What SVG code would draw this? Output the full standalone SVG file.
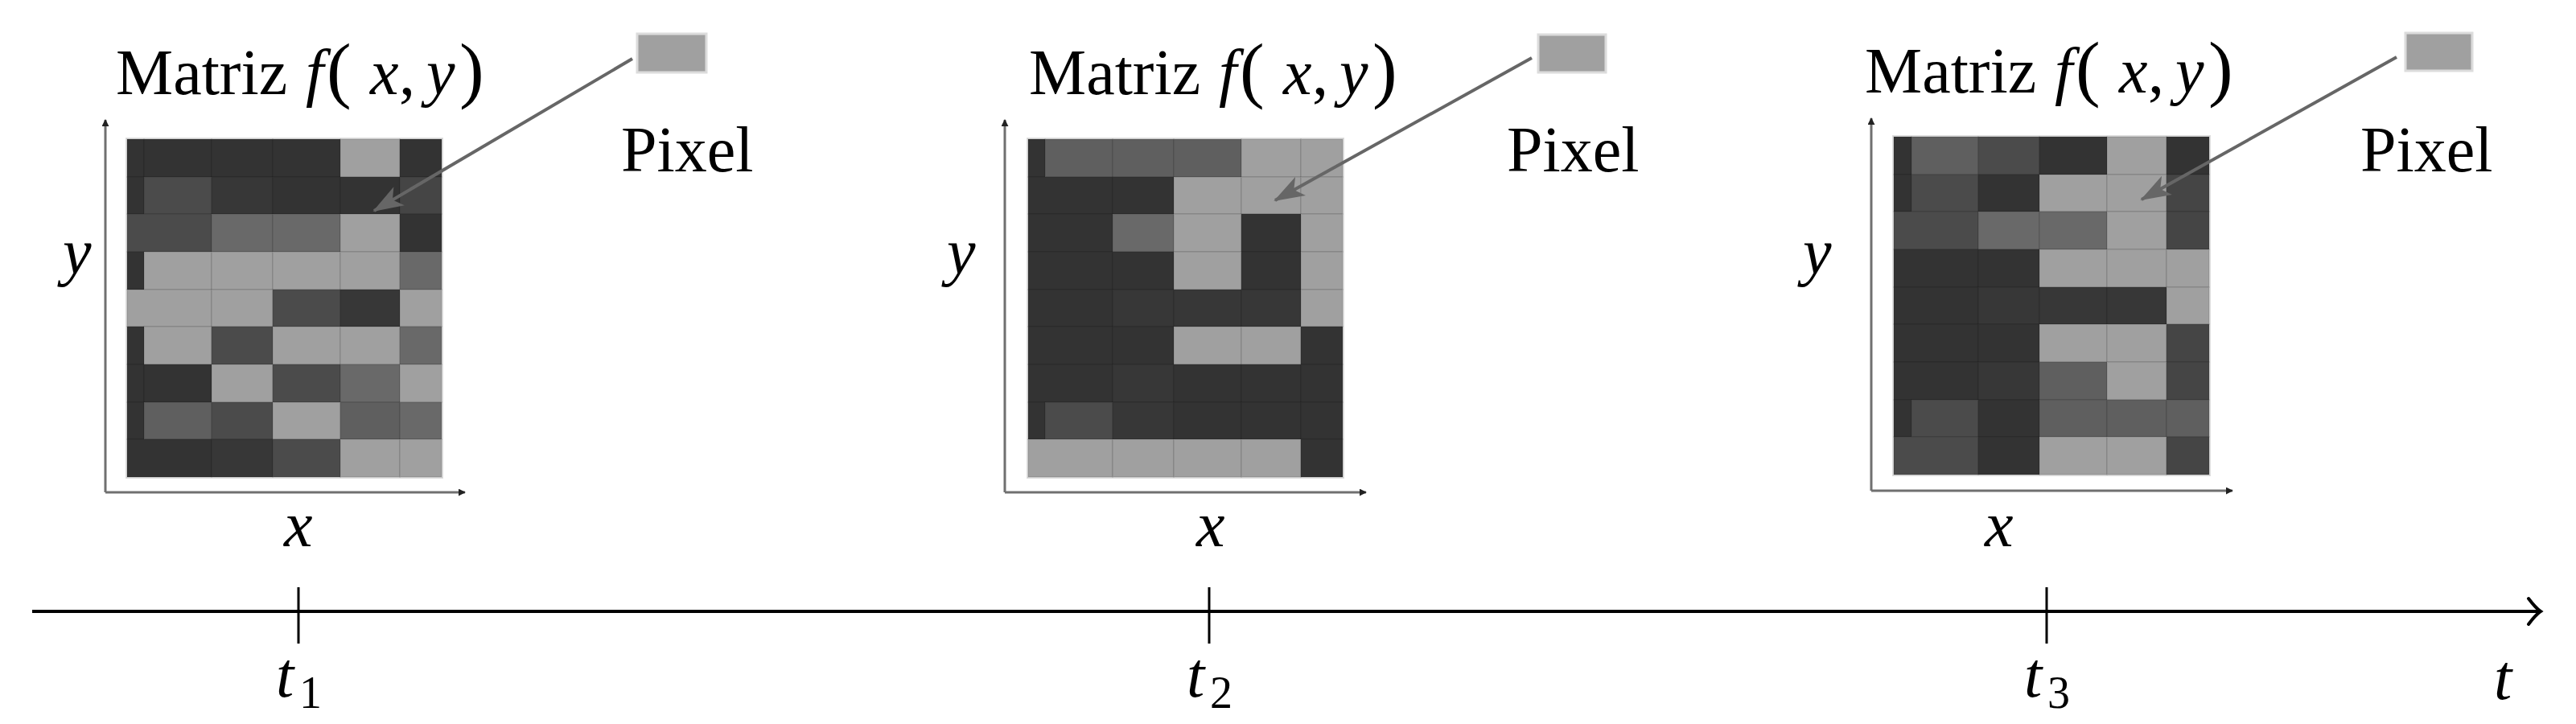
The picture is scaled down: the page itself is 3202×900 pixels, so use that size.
<svg xmlns="http://www.w3.org/2000/svg" width="3202" height="900" viewBox="0 0 3202 900">
<style>
.it{font-style:italic}
.lbl{font-size:80px}
.par{font-size:92px}
.sub{font-size:56px}
.d{fill:#333333}.e{fill:#373737}.m{fill:#4b4b4b}.n{fill:#454545}.g{fill:#5f5f5f}.h{fill:#696969}.l{fill:#a0a0a0}
.cells rect{stroke:#000;stroke-opacity:0.08;stroke-width:2}
.frame{fill:none;stroke:#dedede;stroke-width:4}
.axis{stroke:#707070;stroke-width:3;fill:none}
.pix{fill:#a0a0a0;stroke:#dcdcdc;stroke-width:3}
.ptr{stroke:#666;stroke-width:4;fill:none}
.tl{stroke:#000;stroke-width:4;fill:none}
.tick{stroke:#000;stroke-width:3}
</style>
<defs>
<marker id="ah" viewBox="0 0 10 10" refX="9" refY="5" markerWidth="3" markerHeight="3" orient="auto">
<path d="M0,0 L10,5 L0,10 z" fill="#222"/>
</marker>
<marker id="ptrh" viewBox="0 0 20 14" refX="19" refY="7" markerWidth="38" markerHeight="27" markerUnits="userSpaceOnUse" orient="auto">
<path d="M0,0 L20,7 L0,14 L5,7 z" fill="#666"/>
</marker>
</defs>

<g id="panel1" font-family="Liberation Serif" fill="#000">
<rect class="frame" x="158" y="173" width="391" height="420"/>
<g class="cells" transform="translate(158,173)">
<rect class="d" x="0" y="0" width="21" height="47"/><rect class="d" x="21" y="0" width="84" height="47"/><rect class="d" x="105" y="0" width="76" height="47"/><rect class="d" x="181" y="0" width="84" height="47"/><rect class="l" x="265" y="0" width="74" height="47"/><rect class="d" x="339" y="0" width="52" height="47"/>
<rect class="d" x="0" y="47" width="21" height="46"/><rect class="m" x="21" y="47" width="84" height="46"/><rect class="e" x="105" y="47" width="76" height="46"/><rect class="d" x="181" y="47" width="84" height="46"/><rect class="d" x="265" y="47" width="74" height="46"/><rect class="n" x="339" y="47" width="52" height="46"/>
<rect class="m" x="0" y="93" width="105" height="47"/><rect class="h" x="105" y="93" width="76" height="47"/><rect class="h" x="181" y="93" width="84" height="47"/><rect class="l" x="265" y="93" width="74" height="47"/><rect class="d" x="339" y="93" width="52" height="47"/>
<rect class="d" x="0" y="140" width="21" height="47"/><rect class="l" x="21" y="140" width="84" height="47"/><rect class="l" x="105" y="140" width="76" height="47"/><rect class="l" x="181" y="140" width="84" height="47"/><rect class="l" x="265" y="140" width="74" height="47"/><rect class="h" x="339" y="140" width="52" height="47"/>
<rect class="l" x="0" y="187" width="105" height="46"/><rect class="l" x="105" y="187" width="76" height="46"/><rect class="m" x="181" y="187" width="84" height="46"/><rect class="e" x="265" y="187" width="74" height="46"/><rect class="l" x="339" y="187" width="52" height="46"/>
<rect class="d" x="0" y="233" width="21" height="47"/><rect class="l" x="21" y="233" width="84" height="47"/><rect class="m" x="105" y="233" width="76" height="47"/><rect class="l" x="181" y="233" width="84" height="47"/><rect class="l" x="265" y="233" width="74" height="47"/><rect class="h" x="339" y="233" width="52" height="47"/>
<rect class="d" x="0" y="280" width="21" height="47"/><rect class="d" x="21" y="280" width="84" height="47"/><rect class="l" x="105" y="280" width="76" height="47"/><rect class="m" x="181" y="280" width="84" height="47"/><rect class="h" x="265" y="280" width="74" height="47"/><rect class="l" x="339" y="280" width="52" height="47"/>
<rect class="d" x="0" y="327" width="21" height="46"/><rect class="g" x="21" y="327" width="84" height="46"/><rect class="m" x="105" y="327" width="76" height="46"/><rect class="l" x="181" y="327" width="84" height="46"/><rect class="g" x="265" y="327" width="74" height="46"/><rect class="h" x="339" y="327" width="52" height="46"/>
<rect class="d" x="0" y="373" width="105" height="47"/><rect class="e" x="105" y="373" width="76" height="47"/><rect class="m" x="181" y="373" width="84" height="47"/><rect class="l" x="265" y="373" width="74" height="47"/><rect class="l" x="339" y="373" width="52" height="47"/>
</g>
<path class="axis" d="M131,612 V149" marker-end="url(#ah)"/>
<path class="axis" d="M131,612 H578" marker-end="url(#ah)"/>
<rect class="pix" x="792" y="42" width="86" height="48"/>
<text class="lbl" x="144" y="117">Matriz</text>
<text class="lbl it" x="380" y="117">f</text><text class="par" x="406" y="117">(</text><text class="lbl it" x="460" y="117">x</text><text class="lbl" x="496" y="117">,</text><text class="lbl it" x="530" y="117">y</text><text class="par" x="571" y="117">)</text>
<text class="lbl" x="772" y="213">Pixel</text>
<text class="lbl it" x="78" y="340">y</text>
<text class="lbl it" x="353" y="679">x</text>
</g>

<g id="panel2" font-family="Liberation Serif" fill="#000">
<rect class="frame" x="1278" y="173" width="391" height="420"/>
<g class="cells" transform="translate(1278,173)">
<rect class="d" x="0" y="0" width="21" height="47"/><rect class="g" x="21" y="0" width="84" height="47"/><rect class="g" x="105" y="0" width="76" height="47"/><rect class="g" x="181" y="0" width="84" height="47"/><rect class="l" x="265" y="0" width="74" height="47"/><rect class="l" x="339" y="0" width="52" height="47"/>
<rect class="d" x="0" y="47" width="105" height="46"/><rect class="d" x="105" y="47" width="76" height="46"/><rect class="l" x="181" y="47" width="84" height="46"/><rect class="l" x="265" y="47" width="74" height="46"/><rect class="l" x="339" y="47" width="52" height="46"/>
<rect class="d" x="0" y="93" width="105" height="47"/><rect class="h" x="105" y="93" width="76" height="47"/><rect class="l" x="181" y="93" width="84" height="47"/><rect class="d" x="265" y="93" width="74" height="47"/><rect class="l" x="339" y="93" width="52" height="47"/>
<rect class="d" x="0" y="140" width="105" height="47"/><rect class="d" x="105" y="140" width="76" height="47"/><rect class="l" x="181" y="140" width="84" height="47"/><rect class="d" x="265" y="140" width="74" height="47"/><rect class="l" x="339" y="140" width="52" height="47"/>
<rect class="d" x="0" y="187" width="105" height="46"/><rect class="e" x="105" y="187" width="76" height="46"/><rect class="e" x="181" y="187" width="84" height="46"/><rect class="e" x="265" y="187" width="74" height="46"/><rect class="l" x="339" y="187" width="52" height="46"/>
<rect class="d" x="0" y="233" width="105" height="47"/><rect class="d" x="105" y="233" width="76" height="47"/><rect class="l" x="181" y="233" width="84" height="47"/><rect class="l" x="265" y="233" width="74" height="47"/><rect class="d" x="339" y="233" width="52" height="47"/>
<rect class="d" x="0" y="280" width="105" height="47"/><rect class="e" x="105" y="280" width="76" height="47"/><rect class="d" x="181" y="280" width="84" height="47"/><rect class="d" x="265" y="280" width="74" height="47"/><rect class="d" x="339" y="280" width="52" height="47"/>
<rect class="d" x="0" y="327" width="21" height="46"/><rect class="m" x="21" y="327" width="84" height="46"/><rect class="e" x="105" y="327" width="76" height="46"/><rect class="d" x="181" y="327" width="84" height="46"/><rect class="d" x="265" y="327" width="74" height="46"/><rect class="d" x="339" y="327" width="52" height="46"/>
<rect class="l" x="0" y="373" width="105" height="47"/><rect class="l" x="105" y="373" width="76" height="47"/><rect class="l" x="181" y="373" width="84" height="47"/><rect class="l" x="265" y="373" width="74" height="47"/><rect class="d" x="339" y="373" width="52" height="47"/>
</g>
<path class="axis" d="M1249,612 V149" marker-end="url(#ah)"/>
<path class="axis" d="M1249,612 H1698" marker-end="url(#ah)"/>
<rect class="pix" x="1912" y="43" width="84" height="47"/>
<text class="lbl" x="1279" y="117">Matriz</text>
<text class="lbl it" x="1515" y="117">f</text><text class="par" x="1541" y="117">(</text><text class="lbl it" x="1595" y="117">x</text><text class="lbl" x="1631" y="117">,</text><text class="lbl it" x="1665" y="117">y</text><text class="par" x="1706" y="117">)</text>
<text class="lbl" x="1873" y="213">Pixel</text>
<text class="lbl it" x="1177" y="340">y</text>
<text class="lbl it" x="1487" y="679">x</text>
</g>

<g id="panel3" font-family="Liberation Serif" fill="#000">
<rect class="frame" x="2354" y="170" width="392" height="420"/>
<g class="cells" transform="translate(2354,170)">
<rect class="d" x="0" y="0" width="22" height="47"/><rect class="g" x="22" y="0" width="83" height="47"/><rect class="m" x="105" y="0" width="76" height="47"/><rect class="d" x="181" y="0" width="84" height="47"/><rect class="l" x="265" y="0" width="74" height="47"/><rect class="d" x="339" y="0" width="53" height="47"/>
<rect class="d" x="0" y="47" width="22" height="46"/><rect class="m" x="22" y="47" width="83" height="46"/><rect class="d" x="105" y="47" width="76" height="46"/><rect class="l" x="181" y="47" width="84" height="46"/><rect class="l" x="265" y="47" width="74" height="46"/><rect class="n" x="339" y="47" width="53" height="46"/>
<rect class="m" x="0" y="93" width="105" height="47"/><rect class="h" x="105" y="93" width="76" height="47"/><rect class="h" x="181" y="93" width="84" height="47"/><rect class="l" x="265" y="93" width="74" height="47"/><rect class="n" x="339" y="93" width="53" height="47"/>
<rect class="d" x="0" y="140" width="105" height="47"/><rect class="d" x="105" y="140" width="76" height="47"/><rect class="l" x="181" y="140" width="84" height="47"/><rect class="l" x="265" y="140" width="74" height="47"/><rect class="l" x="339" y="140" width="53" height="47"/>
<rect class="d" x="0" y="187" width="105" height="46"/><rect class="e" x="105" y="187" width="76" height="46"/><rect class="e" x="181" y="187" width="84" height="46"/><rect class="e" x="265" y="187" width="74" height="46"/><rect class="l" x="339" y="187" width="53" height="46"/>
<rect class="d" x="0" y="233" width="105" height="47"/><rect class="d" x="105" y="233" width="76" height="47"/><rect class="l" x="181" y="233" width="84" height="47"/><rect class="l" x="265" y="233" width="74" height="47"/><rect class="n" x="339" y="233" width="53" height="47"/>
<rect class="d" x="0" y="280" width="105" height="47"/><rect class="e" x="105" y="280" width="76" height="47"/><rect class="g" x="181" y="280" width="84" height="47"/><rect class="l" x="265" y="280" width="74" height="47"/><rect class="n" x="339" y="280" width="53" height="47"/>
<rect class="d" x="0" y="327" width="22" height="46"/><rect class="m" x="22" y="327" width="83" height="46"/><rect class="d" x="105" y="327" width="76" height="46"/><rect class="g" x="181" y="327" width="84" height="46"/><rect class="g" x="265" y="327" width="74" height="46"/><rect class="g" x="339" y="327" width="53" height="46"/>
<rect class="m" x="0" y="373" width="105" height="47"/><rect class="d" x="105" y="373" width="76" height="47"/><rect class="l" x="181" y="373" width="84" height="47"/><rect class="l" x="265" y="373" width="74" height="47"/><rect class="n" x="339" y="373" width="53" height="47"/>
</g>
<path class="axis" d="M2326,610 V147" marker-end="url(#ah)"/>
<path class="axis" d="M2326,610 H2775" marker-end="url(#ah)"/>
<rect class="pix" x="2990" y="41" width="83" height="47"/>
<text class="lbl" x="2318" y="115">Matriz</text>
<text class="lbl it" x="2554" y="115">f</text><text class="par" x="2580" y="115">(</text><text class="lbl it" x="2634" y="115">x</text><text class="lbl" x="2670" y="115">,</text><text class="lbl it" x="2704" y="115">y</text><text class="par" x="2745" y="115">)</text>
<text class="lbl" x="2934" y="213">Pixel</text>
<text class="lbl it" x="2241" y="340">y</text>
<text class="lbl it" x="2467" y="679">x</text>
</g>

<g id="connectors">
<path class="ptr" d="M786,73 L465,262" marker-end="url(#ptrh)"/>
<path class="ptr" d="M1904,72 L1585,249" marker-end="url(#ptrh)"/>
<path class="ptr" d="M2979,71 L2662,248" marker-end="url(#ptrh)"/>
</g>

<g id="timeline" font-family="Liberation Serif" fill="#000">
<path class="tl" d="M40,760 H3156"/>
<path class="tl" d="M3143,744 Q3152,756 3158,760 Q3152,764 3143,776" stroke-linecap="round"/>
<line class="tick" x1="371" y1="730" x2="371" y2="800"/>
<line class="tick" x1="1503" y1="730" x2="1503" y2="800"/>
<line class="tick" x1="2544" y1="730" x2="2544" y2="800"/>
<text class="lbl it" x="343" y="866">t</text><text class="sub" x="372" y="880">1</text>
<text class="lbl it" x="1475" y="866">t</text><text class="sub" x="1504" y="880">2</text>
<text class="lbl it" x="2516" y="866">t</text><text class="sub" x="2545" y="880">3</text>
<text class="lbl it" x="3100" y="869">t</text>
</g>
</svg>
